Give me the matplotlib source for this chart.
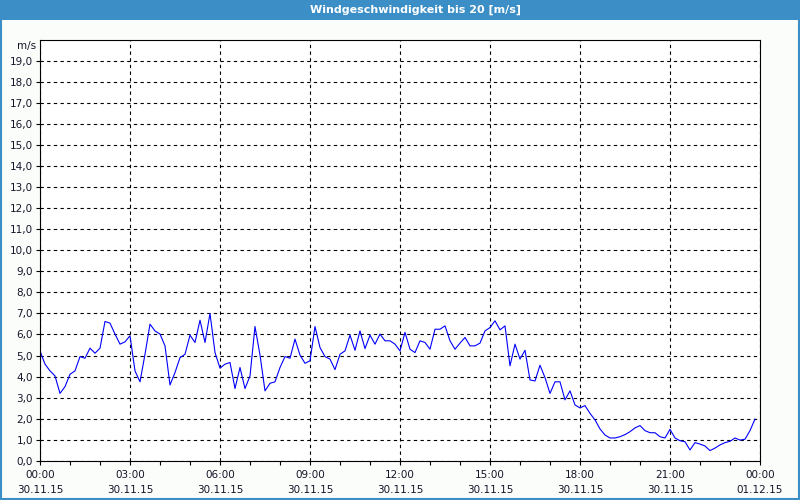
# Windgeschwindigkeit 30.11.15, Werte alle 10 Minuten

import pandas as pd
import numpy as np
from matplotlib import pyplot as plt
import matplotlib.dates as mdates
from matplotlib.patches import Rectangle

title = 'Windgeschwindigkeit bis 20 [m/s]'
unit = 'm/s'
start = '2015-11-30 00:00'
end = '2015-12-01 00:00'

# eine Zeile = eine Stunde (6 Werte a 10 Minuten)
speed = [
    5.22, 4.59, 4.27, 4.03, 3.20, 3.52,
    4.11, 4.27, 4.95, 4.87, 5.35, 5.11,
    5.35, 6.62, 6.54, 6.02, 5.54, 5.65,
    5.94, 4.27, 3.75, 5.06, 6.49, 6.17,
    6.02, 5.46, 3.60, 4.19, 4.90, 5.06,
    5.97, 5.62, 6.68, 5.62, 7.00, 5.14,
    4.40, 4.59, 4.67, 3.43, 4.43, 3.43,
    4.03, 6.38, 5.02, 3.32, 3.68, 3.75,
    4.43, 4.95, 4.87, 5.78, 5.02, 4.63,
    4.75, 6.38, 5.38, 4.95, 4.83, 4.33,
    5.06, 5.22, 5.97, 5.25, 6.17, 5.33,
    5.97, 5.54, 6.02, 5.70, 5.70, 5.54,
    5.22, 6.10, 5.30, 5.14, 5.70, 5.62,
    5.30, 6.25, 6.25, 6.41, 5.70, 5.30,
    5.59, 5.86, 5.46, 5.46, 5.59, 6.17,
    6.33, 6.65, 6.22, 6.41, 4.51, 5.54,
    4.83, 5.25, 3.84, 3.79, 4.54, 3.95,
    3.20, 3.75, 3.75, 2.89, 3.32, 2.65,
    2.51, 2.62, 2.25, 1.94, 1.51, 1.22,
    1.08, 1.08, 1.14, 1.24, 1.38, 1.56,
    1.67, 1.43, 1.33, 1.33, 1.14, 1.08,
    1.49, 1.08, 0.95, 0.90, 0.51, 0.86,
    0.79, 0.70, 0.48, 0.60, 0.75, 0.86,
    0.92, 1.08, 0.98, 1.02, 1.43, 1.98,
]
times = pd.date_range(start, periods=len(speed), freq='10min')
ts = pd.Series(speed, index=times)

blue = '#3c8fc6'
txt = '#141428'

fig = plt.figure(figsize=(8, 5), dpi=100)
fig.patch.set_facecolor('#fbfdfb')

# Titelleiste + Rahmen
fig.patches.append(Rectangle((0, 0.96), 1, 0.04, transform=fig.transFigure,
                             facecolor=blue, edgecolor='none', zorder=0))
fig.patches.append(Rectangle((0.001, 0.002), 0.998, 0.997, transform=fig.transFigure,
                             facecolor='none', edgecolor=blue, linewidth=1.5, zorder=0))
fig.text(0.52, 0.98, title, color='white', fontsize=8, fontweight='bold',
         ha='center', va='center')

ax = fig.add_axes([0.05, 0.0786, 0.90, 0.8414])
ax.set_facecolor('white')
ax.plot(ts.index, ts.values, color='#0000ff', linewidth=0.8)

ax.set_xlim(pd.Timestamp(start), pd.Timestamp(end))
ax.set_ylim(0, 20)
ax.set_yticks(np.arange(0, 20, 1))
ax.yaxis.set_major_formatter(plt.FuncFormatter(lambda v, p: f'{v:.1f}'.replace('.', ',')))
ax.xaxis.set_major_locator(mdates.HourLocator(interval=3))
ax.xaxis.set_minor_locator(mdates.HourLocator())
ax.xaxis.set_major_formatter(mdates.DateFormatter('%H:%M\n%d.%m.%y'))

ax.grid(True, which='major', color='black', linestyle=(0, (3, 3)), linewidth=0.8)
ax.tick_params(axis='both', which='both', direction='out', length=3, width=0.8,
               colors='black', labelcolor=txt, labelsize=7.5)
ax.tick_params(axis='x', pad=4)
ax.tick_params(axis='y', pad=2)
for lab in ax.get_xticklabels():
    lab.set_linespacing(1.6)
for s in ax.spines.values():
    s.set_color('black')
    s.set_linewidth(0.8)

ax.text(-0.005, 0.985, unit, transform=ax.transAxes, ha='right', va='center',
        fontsize=7.5, color=txt)

fig.savefig('out.png', dpi=100, facecolor=fig.get_facecolor())
